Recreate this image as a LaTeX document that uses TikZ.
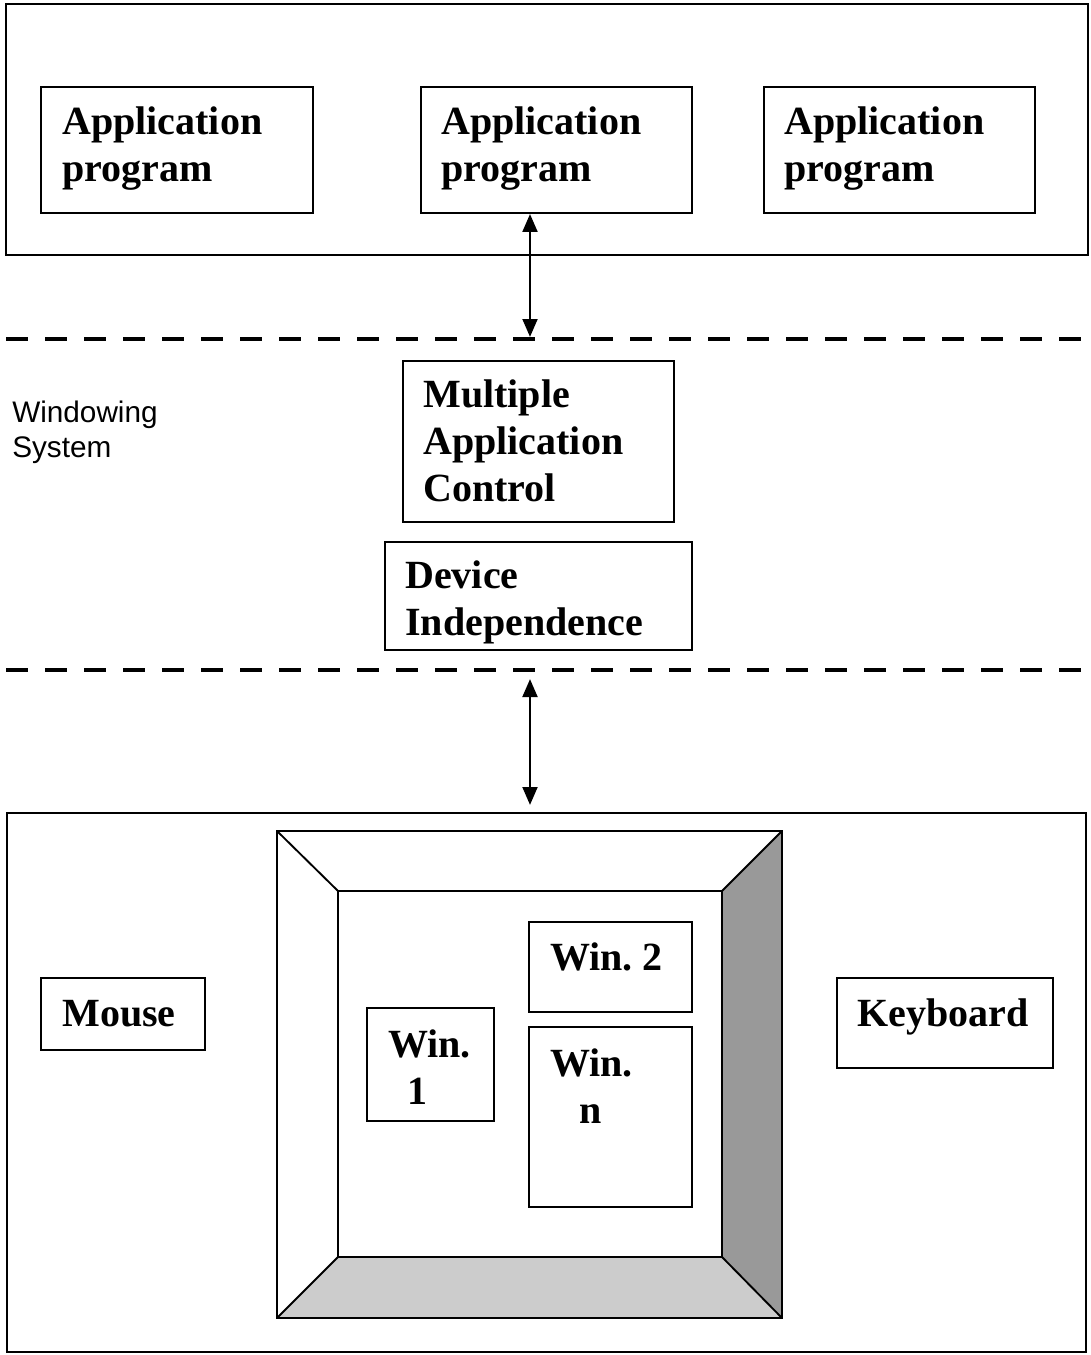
\documentclass[tikz,border=0pt]{standalone}
\usepackage{fontspec}
\setmainfont{Liberation Serif}
\newfontfamily\sideSans{Liberation Sans}
\usetikzlibrary{arrows.meta,fit}
\newcommand\stack[1]{\begin{tabular}[t]{@{}l@{}}#1\end{tabular}}
\frenchspacing
\begin{document}
\begin{tikzpicture}[x=0.75pt,y=-0.75pt,
  box/.style={draw, line width=1.4pt, inner sep=0pt},
  frame/.style={draw, line width=1.4pt},
  lbl/.style={anchor=base west, inner sep=0pt,
    font=\bfseries\fontsize{30}{35.25}\selectfont},
  side/.style={anchor=base west, inner sep=0pt,
    font=\sideSans\fontsize{22.3}{26.25}\selectfont},
  dashline/.style={line width=3pt, dash pattern=on 16.5pt off 12.75pt},
  biarrow/.style={line width=2.2pt,
    {Triangle[length=13.5pt,width=11pt]}-{Triangle[length=13.5pt,width=11pt]}}]
\useasboundingbox (0,0) rectangle (1091,1355);

% application layer
\node[box, fit={(6,4) (1088,255)}] (applayer) {};
\node[box, fit={(41,87) (313,213)}] (app1) {};
\node[box, fit={(421,87) (692,213)}] (app2) {};
\node[box, fit={(764,87) (1035,213)}] (app3) {};
\node[lbl] (app1t) at (62,135) {\stack{Application\\program}};
\node[lbl] (app2t) at (441,135) {\stack{Application\\program}};
\node[lbl] (app3t) at (784,135) {\stack{Application\\program}};

% windowing system layer
\draw[dashline] (6,339) -- (1091,339);
\draw[dashline] (6,670) -- (1091,670);
\coordinate (up1) at (530,337);
\coordinate (lo0) at (530,679);
\coordinate (lo1) at (530,805);
\node[side] (ws) at (12,422) {\stack{Windowing\\System}};
\node[box, fit={(403,361) (674,522)}] (mac) {};
\node[lbl] (mact) at (423,407) {\stack{Multiple\\Application\\Control}};
\node[box, fit={(385,542) (692,650)}] (dev) {};
\node[lbl] (devt) at (405,588) {\stack{Device\\Independence}};

% hardware layer
\node[box, fit={(7,813) (1086,1352)}] (hw) {};
\node[box, fit={(41,978) (205,1050)}] (mouse) {};
\node[lbl] (mouset) at (62,1026) {Mouse};
\node[box, fit={(837,978) (1053,1068)}] (kbd) {};
\node[lbl] (kbdt) at (857,1026) {Keyboard};

% screen bezel
\fill[black!40] (722,891) -- (782,831) -- (782,1318) -- (722,1257) -- cycle;
\fill[black!20] (338,1257) -- (722,1257) -- (782,1318) -- (277,1318) -- cycle;
\draw[frame] (277,831) rectangle (782,1318);
\draw[frame] (338,891) rectangle (722,1257);
\draw[frame] (277,831) -- (338,891);
\draw[frame] (782,831) -- (722,891);
\draw[frame] (277,1318) -- (338,1257);
\draw[frame] (782,1318) -- (722,1257);

% windows on the screen
\node[box, fit={(529,922) (692,1012)}] (win2) {};
\node[lbl] (win2t) at (550,970) {Win. 2};
\node[box, fit={(367,1008) (494,1121)}] (win1) {};
\node[lbl] (win1t) at (388,1057) {\stack{Win.\\\hspace{14.5pt}1}};
\node[box, fit={(529,1027) (692,1207)}] (winn) {};
\node[lbl] (winnt) at (550,1076) {\stack{Win.\\\hspace{22pt}n}};

% connectors
\draw[biarrow] (app2.south -| up1) -- (up1);
\draw[biarrow] (lo0) -- (lo1);
\end{tikzpicture}
\end{document}
